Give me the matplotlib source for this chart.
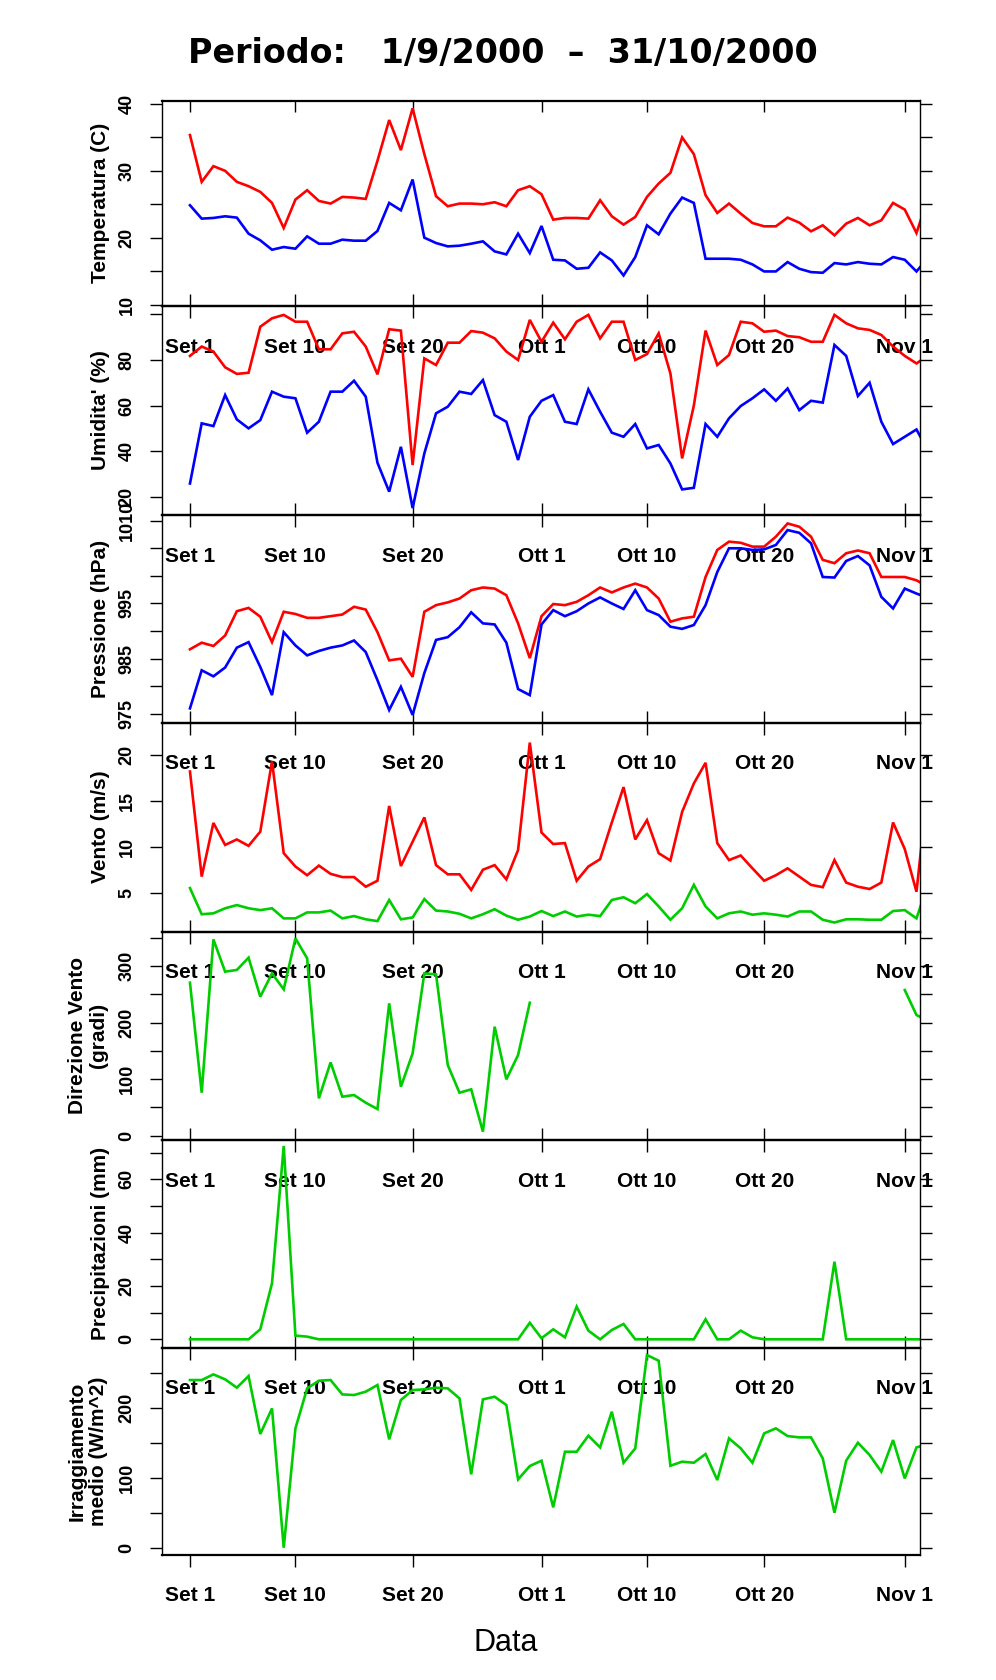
import numpy as np
import matplotlib
matplotlib.use("Agg")
import matplotlib.pyplot as plt
from matplotlib.ticker import FixedLocator, FixedFormatter

plt.rcParams['font.family'] = ['Liberation Sans', 'DejaVu Sans']

# ---------------- data (one value per day starting 1 Sep 2000) ----------------
temp_max = [35.35, 28.35, 30.7, 30.0, 28.35, 27.7, 26.85, 25.2, 21.45, 25.7,
            27.1, 25.5, 25.1, 26.1, 26.0, 25.8, 31.5, 37.6, 33.1, 39.35,
            32.5, 26.2, 24.7, 25.1, 25.1, 25.0, 25.3, 24.7, 27.1, 27.7, 26.5,
            22.7, 22.95, 22.95, 22.85, 25.6, 23.2, 21.95, 23.1, 26.1, 28.1, 29.7, 35.0, 32.5,
            26.35, 23.7, 25.1, 23.6, 22.2, 21.7, 21.7, 23.0, 22.25, 20.95, 21.85, 20.35,
            22.1, 22.95, 21.85, 22.6, 25.2, 24.2, 20.7, 26.0]
temp_min = [24.85, 22.85, 22.95, 23.2, 23.0, 20.6, 19.6, 18.2, 18.6, 18.35,
            20.2, 19.1, 19.1, 19.7, 19.55, 19.55, 21.0, 25.2, 24.1, 28.7,
            20.0, 19.2, 18.7, 18.8, 19.1, 19.45, 17.95, 17.5, 20.6, 17.7, 21.75,
            16.7, 16.6, 15.35, 15.5, 17.8, 16.6, 14.35, 17.1, 21.85, 20.5, 23.6, 26.0, 25.2,
            16.85, 16.85, 16.85, 16.7, 16.0, 14.95, 14.95, 16.35, 15.35, 14.85, 14.75,
            16.2, 16.0, 16.35, 16.1, 16.0, 17.1, 16.7, 14.95, 17.0]
hum_max = [81.8, 85.9, 83.7, 76.8, 73.9, 74.4, 94.6, 98.3, 99.8, 96.8,
           96.8, 84.7, 84.7, 91.7, 92.4, 85.9, 73.7, 93.5, 92.9, 33.9,
           80.7, 77.8, 87.6, 87.6, 92.7, 92.0, 89.5, 83.7, 80.0, 97.6, 88.0,
           96.4, 89.1, 96.8, 99.8, 89.5, 96.8, 96.8, 80.0, 82.6, 91.7, 74.1, 36.8, 60.0,
           92.9, 77.8, 82.2, 96.8, 96.1, 92.4, 92.9, 90.5, 90.0, 88.0, 88.0, 99.8,
           96.1, 93.9, 93.2, 91.0, 85.9, 81.8, 78.5, 82.0]
hum_min = [25.8, 52.2, 51.0, 64.6, 53.9, 50.0, 53.6, 66.1, 63.9, 63.2,
           48.1, 52.9, 66.1, 66.1, 70.9, 63.9, 34.9, 22.2, 41.9, 15.0,
           39.0, 56.6, 59.5, 66.1, 65.1, 71.2, 55.8, 52.9, 36.1, 55.1, 62.1,
           64.6, 52.9, 51.9, 67.1, 57.3, 48.1, 46.3, 51.9, 41.2, 42.7, 34.6, 23.2, 23.9,
           51.9, 46.3, 54.4, 59.8, 63.2, 67.1, 62.1, 67.5, 58.0, 62.1, 61.3, 86.6,
           81.8, 64.2, 70.0, 52.9, 43.1, 46.3, 49.5, 40.0]
press_max = [986.7, 987.9, 987.3, 989.2, 993.6, 994.2, 992.6, 988.0, 993.5, 993.1,
             992.4, 992.4, 992.7, 993.0, 994.4, 993.9, 989.8, 984.7, 985.0, 981.7,
             993.5, 994.7, 995.2, 995.9, 997.4, 997.9, 997.7, 996.5, 991.4, 985.1, 992.7,
             994.9, 994.7, 995.3, 996.5, 997.9, 997.0, 997.9, 998.6, 997.9, 995.9, 991.7, 992.3, 992.6,
             999.8, 1004.7, 1006.2, 1006.0, 1005.3, 1005.3, 1007.1, 1009.5, 1008.9, 1007.1, 1002.9,
             1002.3, 1004.1, 1004.6, 1004.1, 999.8, 999.8, 999.8, 999.2, 998.0]
press_min = [976.0, 982.9, 981.8, 983.4, 987.0, 988.0, 983.5, 978.4, 989.8, 987.4,
             985.6, 986.4, 987.0, 987.4, 988.3, 986.2, 981.1, 975.7, 979.9, 974.8,
             982.4, 988.4, 988.9, 990.7, 993.4, 991.4, 991.2, 987.9, 979.5, 978.4, 991.2,
             993.8, 992.7, 993.6, 995.0, 996.1, 995.0, 994.0, 997.4, 993.8, 992.9, 990.8, 990.4, 991.1,
             994.7, 1000.7, 1005.0, 1005.0, 1004.7, 1004.8, 1005.6, 1008.3, 1007.8, 1005.9, 999.8,
             999.7, 1002.7, 1003.6, 1001.9, 996.2, 994.1, 997.7, 996.8, 996.0]
wind_max = [18.2, 6.75, 12.6, 10.2, 10.8, 10.1, 11.65, 19.3, 9.3, 7.85,
            6.9, 7.95, 7.05, 6.7, 6.7, 5.65, 6.3, 14.45, 7.9, 10.55,
            13.2, 8.0, 7.0, 7.0, 5.3, 7.5, 8.0, 6.45, 9.65, 21.35, 11.55,
            10.3, 10.4, 6.3, 7.85, 8.65, 12.65, 16.5, 10.8, 12.9, 9.3, 8.5, 13.8, 16.9,
            19.15, 10.4, 8.55, 9.05, 7.65, 6.3, 6.9, 7.65, 6.75, 5.85, 5.6, 8.55,
            6.1, 5.65, 5.4, 6.1, 12.65, 9.75, 5.1, 17.0]
wind_mean = [5.5, 2.65, 2.75, 3.3, 3.65, 3.3, 3.1, 3.3, 2.2, 2.2,
             2.85, 2.85, 3.05, 2.2, 2.45, 2.1, 1.9, 4.2, 2.1, 2.3,
             4.3, 3.05, 2.95, 2.7, 2.2, 2.65, 3.2, 2.5, 2.05, 2.4, 3.0,
             2.45, 2.95, 2.4, 2.6, 2.45, 4.2, 4.5, 3.85, 4.85, 3.5, 2.05, 3.3, 5.85,
             3.5, 2.2, 2.75, 2.95, 2.6, 2.75, 2.6, 2.4, 2.95, 2.95, 2.05, 1.75,
             2.1, 2.1, 2.05, 2.05, 3.0, 3.1, 2.2, 6.0]
nan = float('nan')
wind_dir = [270.5, 76.0, 347.0, 290.0, 293.0, 314.7, 245.7, 287.0, 258.7, 348.9,
            313.5, 66.0, 129.6, 69.0, 71.9, 58.3, 47.1, 234.0, 86.6, 145.5,
            287.0, 285.2, 124.9, 76.0, 81.9, 7.1, 192.7, 99.6, 142.6, 235.0] + \
           [nan] * 31 + [257.5, 213.3, 203.0]
precip = [0, 0, 0, 0, 0, 0, 3.75, 21.0, 72.5, 1.4,
          1.0, 0, 0, 0, 0, 0, 0, 0, 0, 0,
          0, 0, 0, 0, 0, 0, 0, 0, 0, 6.2, 0.4,
          3.75, 0.75, 12.25, 3.25, 0, 3.5, 5.75, 0, 0, 0, 0, 0, 0,
          7.5, 0, 0, 3.25, 0.75, 0, 0, 0, 0, 0, 0, 29.1,
          0, 0, 0, 0, 0, 0, 0, 0]
irrad = [239.5, 239.5, 247.6, 240.5, 228.6, 245.2, 162.4, 199.0, 0.0, 170.5,
         227.6, 238.6, 239.5, 219.0, 218.1, 222.9, 232.4, 154.8, 211.0, 225.2,
         226.2, 228.6, 227.6, 213.3, 104.8, 211.9, 215.7, 203.8, 97.6, 116.7, 124.3,
         57.6, 137.1, 137.1, 160.0, 143.3, 194.3, 121.4, 141.9, 275.2, 267.1, 117.1, 122.9, 121.4,
         133.8, 96.7, 156.2, 141.9, 121.4, 163.3, 170.5, 159.5, 157.6, 157.6, 127.6, 50.0,
         124.3, 150.0, 132.4, 108.6, 153.8, 99.0, 143.3, 148.0]

date_tick_days = [0, 9, 19, 30, 39, 49, 61]
date_tick_labels = ['Set 1', 'Set 10', 'Set 20', 'Ott 1', 'Ott 10', 'Ott 20', 'Nov 1']

ylabels = ['Temperatura (C)', "Umidita' (%)", 'Pressione (hPa)', 'Vento (m/s)',
           'Direzione Vento\n(gradi)', 'Precipitazioni (mm)', 'Irraggiamento\nmedio (W/m^2)']
y_ticks = [[10, 15, 20, 25, 30, 35, 40],
           [20, 40, 60, 80, 100],
           [975, 980, 985, 990, 995, 1000, 1005, 1010],
           [5, 10, 15, 20],
           [0, 50, 100, 150, 200, 250, 300, 350],
           [0, 10, 20, 30, 40, 50, 60, 70],
           [0, 50, 100, 150, 200, 250]]
y_ticklabels = [['10', '', '20', '', '30', '', '40'],
                ['20', '40', '60', '80', ''],
                ['975', '', '985', '', '995', '', '', '1010'],
                ['5', '10', '15', '20'],
                ['0', '', '100', '', '200', '', '300', ''],
                ['0', '', '20', '', '40', '', '60', ''],
                ['0', '', '100', '', '200', '']]
y_limits = [(9.78, 40.52), (11.97, 103.7), (973.44, 1011.03), (0.77, 23.54),
            (-7.6, 361.0), (-3.07, 74.74), (-10.4, 286.0)]

title = 'Periodo:   1/9/2000  \u2013  31/10/2000'
xlabel = 'Data'

RED, BLUE, GREEN = '#FF0000', '#0000FF', '#00CD00'
series = [[(temp_max, RED), (temp_min, BLUE)],
          [(hum_max, RED), (hum_min, BLUE)],
          [(press_max, RED), (press_min, BLUE)],
          [(wind_max, RED), (wind_mean, GREEN)],
          [(wind_dir, GREEN)],
          [(precip, GREEN)],
          [(irrad, GREEN)]]

# ---------------- layout ----------------
W, H = 996, 1680
fig = plt.figure(figsize=(W / 100, H / 100), dpi=100)
fig.patch.set_facecolor('white')

bounds = [100.5, 306, 515, 722.5, 931.5, 1140, 1347.5, 1555]
x_left, x_right = 161.5, 920.0
PX = 0.72  # points per pixel at dpi 100

days = np.arange(len(temp_max))

for i in range(7):
    top, bot = bounds[i], bounds[i + 1]
    ax = fig.add_axes([x_left / W, 1 - bot / H, (x_right - x_left) / W, (bot - top) / H])
    ax.set_facecolor('none')
    for vals, col in series[i]:
        ax.plot(days, vals, color=col, lw=1.9, solid_joinstyle='miter')
    ax.set_xlim(-2.43, 62.3)
    ax.set_ylim(*y_limits[i])

    for s in ('left', 'right'):
        ax.spines[s].set_linewidth(1.0)
    for s in ('top', 'bottom'):
        ax.spines[s].set_linewidth(1.6)

    # x axis
    ax.xaxis.set_major_locator(FixedLocator(date_tick_days))
    ax.xaxis.set_major_formatter(FixedFormatter(date_tick_labels))
    if i < 6:
        ax.tick_params(axis='x', which='major', direction='inout', length=24 * PX,
                       width=1.0, bottom=True, top=(i == 0), labelbottom=True,
                       pad=14.3, labelsize=15)
    else:
        ax.tick_params(axis='x', which='major', direction='out', length=12 * PX,
                       width=1.0, bottom=True, top=False, labelbottom=True,
                       pad=13.4, labelsize=15)
    for lab in ax.get_xticklabels():
        lab.set_fontweight('bold')
    if i == 0:
        # top ticks of the first panel point inwards
        ax.tick_params(axis='x', which='major', top=True)
        for t in ax.xaxis.get_major_ticks():
            t.tick2line.set_marker(matplotlib.lines.TICKDOWN)
            t.tick2line.set_markersize(11.5 * PX)

    # y axis
    ax.yaxis.set_major_locator(FixedLocator(y_ticks[i]))
    ax.yaxis.set_major_formatter(FixedFormatter(y_ticklabels[i]))
    ax.tick_params(axis='y', which='major', direction='out', length=12 * PX, width=1.0,
                   left=True, right=True, labelleft=True, labelright=False,
                   pad=10, labelsize=13)
    for lab in ax.get_yticklabels():
        lab.set_rotation(90)
        lab.set_va('center')
        lab.set_fontweight('bold')

    # y label
    lab = ylabels[i]
    xl = 88 if '\n' in lab else 100
    fig.text(xl / W, 1 - (top + bot) / 2 / H, lab, rotation=90, ha='center', va='center',
             fontsize=15, fontweight='bold', multialignment='center', linespacing=1.15)

fig.text(503 / W, 1 - 63.3 / H, title, ha='center', va='baseline', fontsize=24,
         fontweight='bold', family=['DejaVu Sans'])
fig.text(506 / W, 1 - 1650.7 / H, xlabel, ha='center', va='baseline', fontsize=22)

fig.savefig('out.png', dpi=100, facecolor='white')
